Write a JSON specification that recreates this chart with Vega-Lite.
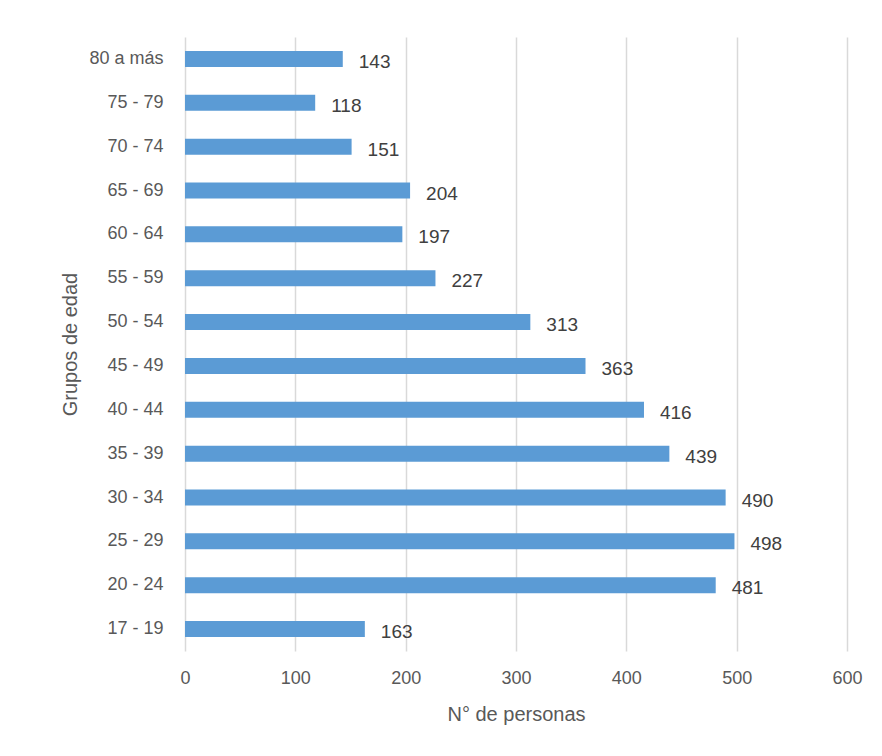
{
  "$schema": "https://vega.github.io/schema/vega-lite/v6.json",
  "width": 662,
  "height": 614,
  "autosize": "none",
  "padding": {"left": 185, "top": 37, "right": 35, "bottom": 105},
  "background": "white",
  "config": {
    "view": {"stroke": null},
    "font": "Liberation Sans"
  },
  "data": {
    "values": [
      {"grupo": "80 a más", "personas": 143},
      {"grupo": "75 - 79", "personas": 118},
      {"grupo": "70 - 74", "personas": 151},
      {"grupo": "65 - 69", "personas": 204},
      {"grupo": "60 - 64", "personas": 197},
      {"grupo": "55 - 59", "personas": 227},
      {"grupo": "50 - 54", "personas": 313},
      {"grupo": "45 - 49", "personas": 363},
      {"grupo": "40 - 44", "personas": 416},
      {"grupo": "35 - 39", "personas": 439},
      {"grupo": "30 - 34", "personas": 490},
      {"grupo": "25 - 29", "personas": 498},
      {"grupo": "20 - 24", "personas": 481},
      {"grupo": "17 - 19", "personas": 163}
    ]
  },
  "encoding": {
    "y": {
      "field": "grupo",
      "type": "nominal",
      "sort": null,
      "scale": {"paddingInner": 0.635, "paddingOuter": 0.3175},
      "axis": {
        "title": "Grupos de edad",
        "titleFont": "Liberation Sans",
        "titleFontSize": 20,
        "titleFontWeight": "normal",
        "titleColor": "#595959",
        "titlePadding": 8,
        "labelFont": "Liberation Sans",
        "labelFontSize": 18,
        "labelColor": "#595959",
        "labelPadding": 22,
        "ticks": false,
        "domain": false,
        "grid": false
      }
    },
    "x": {
      "field": "personas",
      "type": "quantitative",
      "scale": {"domain": [0, 600], "nice": false},
      "axis": {
        "title": "N° de personas",
        "titleFont": "Liberation Sans",
        "titleFontSize": 20,
        "titleFontWeight": "normal",
        "titleColor": "#595959",
        "titlePadding": 17,
        "labelFont": "Liberation Sans",
        "labelFontSize": 18,
        "labelColor": "#595959",
        "labelPadding": 18,
        "labelFlush": false,
        "values": [0, 100, 200, 300, 400, 500, 600],
        "ticks": false,
        "domain": false,
        "grid": true,
        "gridColor": "#d9d9d9",
        "gridWidth": 1.5
      }
    }
  },
  "layer": [
    {"mark": {"type": "bar", "color": "#5b9bd5"}},
    {
      "mark": {
        "type": "text",
        "align": "left",
        "baseline": "middle",
        "dx": 16,
        "dy": 3,
        "fontSize": 19,
        "font": "Liberation Sans",
        "color": "#404040"
      },
      "encoding": {"text": {"field": "personas", "type": "quantitative"}}
    }
  ]
}
